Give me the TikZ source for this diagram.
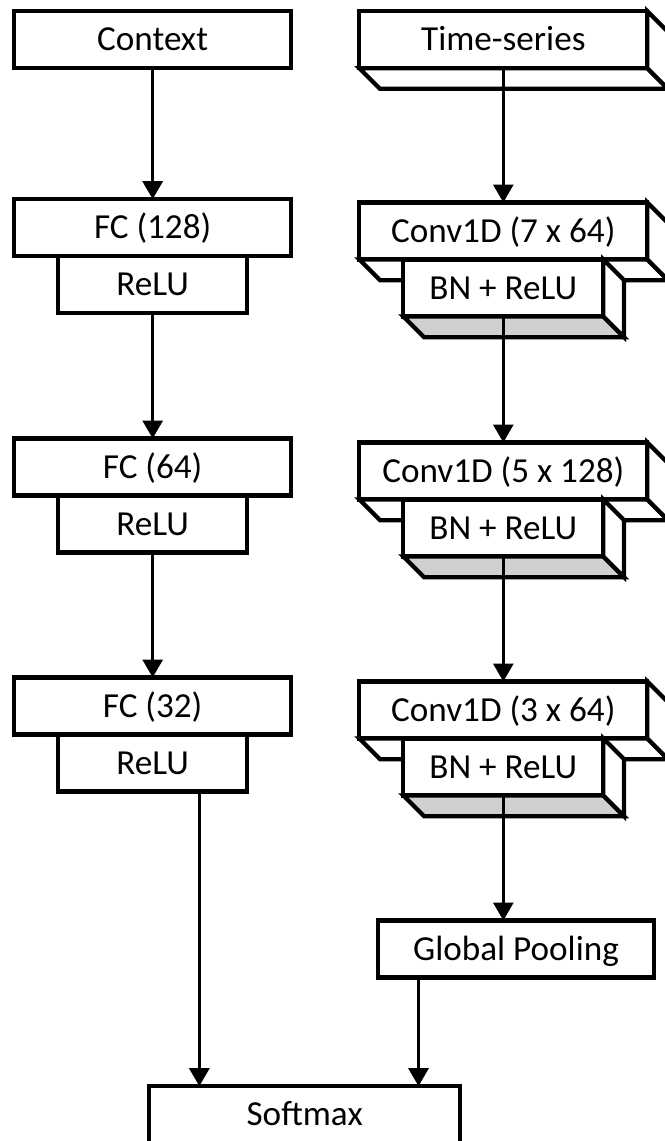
\documentclass[tikz,border=0pt]{standalone}
\usepackage{fontspec}
\setmainfont{Carlito}
\usetikzlibrary{arrows.meta}
\usetikzlibrary{calc}
\definecolor{facegray}{RGB}{208,208,208}
\tikzstyle{layer} = [rectangle, minimum width = 8.3cm, minimum height=1.71cm, text centered, draw = black, fill = white, line width=3.6pt, outer sep=0pt, text height=19.3pt, text depth=0pt]
\tikzstyle{sublayer} = [layer, minimum width = 5.67cm]
\tikzstyle{conv} = [layer, minimum width = 8.64cm]
\tikzstyle{bnlayer} = [layer, minimum width = 6cm]
\tikzstyle{face} = [draw = black, line width=3.6pt]
\tikzstyle{arrow} = [-{Triangle[width=0.6cm,length=0.54cm]}, line width=2.6pt]
\newcommand{\boxdep}{0.62cm}
% bottom and right face of a layer drawn as a slab
\newcommand{\depthface}[2]{%
  \filldraw[face, fill=#2] (#1.south west) -- ++(\boxdep,-\boxdep) -- ($(#1.south east)+(\boxdep,-\boxdep)$) -- (#1.south east) -- cycle;
  \filldraw[face, fill=white] (#1.north east) -- ++(\boxdep,-\boxdep) -- ($(#1.south east)+(\boxdep,-\boxdep)$) -- (#1.south east) -- cycle;
}

\begin{document}
\begin{tikzpicture}[node distance=1.71cm, font=\fontsize{30}{36}\selectfont]
	\useasboundingbox (0,0) rectangle (19.95,-34.23);
	% context branch
	\node (ctx) [layer] at (4.58,-1.19) {Context};
	\node (fc1) [layer, below of=ctx, yshift=-3.93cm] {FC (128)};
	\node (relu1) [sublayer, below of=fc1] {ReLU};
	\node (fc2) [layer, below of=relu1, yshift=-3.76cm] {FC (64)};
	\node (relu2) [sublayer, below of=fc2] {ReLU};
	\node (fc3) [layer, below of=relu2, yshift=-3.75cm] {FC (32)};
	\node (relu3) [sublayer, below of=fc3] {ReLU};
	% time-series branch
	\node (ts) [conv, right of=ctx, xshift=8.81cm] {Time-series};
	\depthface{ts}{white}
	\node (cv1) [conv, below of=ts, yshift=-4.03cm] {Conv1D (7 x 64)};
	\depthface{cv1}{white}
	\node (bn1) [bnlayer, below of=cv1] {BN + ReLU};
	\depthface{bn1}{facegray}
	\node (cv2) [conv, below of=bn1, yshift=-3.78cm] {Conv1D (5 x 128)};
	\depthface{cv2}{white}
	\node (bn2) [bnlayer, below of=cv2] {BN + ReLU};
	\depthface{bn2}{facegray}
	\node (cv3) [conv, below of=bn2, yshift=-3.75cm] {Conv1D (3 x 64)};
	\depthface{cv3}{white}
	\node (bn3) [bnlayer, below of=cv3] {BN + ReLU};
	\depthface{bn3}{facegray}
	\node (gp) [layer, minimum width = 8.28cm, below of=bn3, yshift=-3.75cm, xshift=0.38cm] {Global Pooling};
	\node (sm) [layer, minimum width = 9.33cm] at (9.14,-33.44) {Softmax};
	\coordinate (reluout) at ([xshift=1.4cm]relu3.south);
	\coordinate (smin) at ([xshift=-1.25cm]sm.north east);
	\draw [arrow](ctx) -- (fc1);
	\draw [arrow](relu1) -- (fc2);
	\draw [arrow](relu2) -- (fc3);
	\draw [arrow](reluout) -- (reluout |- sm.north);
	\draw [arrow](ts) -- (cv1);
	\draw [arrow](bn1) -- (cv2);
	\draw [arrow](bn2) -- (cv3);
	\draw [arrow](bn3.south) -- (bn3.south |- gp.north);
	\draw [arrow](smin |- gp.south) -- (smin);
\end{tikzpicture}
\end{document}
